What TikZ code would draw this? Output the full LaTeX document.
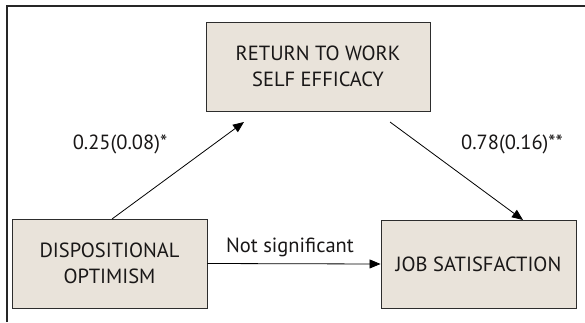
\documentclass[tikz,border=0pt]{standalone}
\usepackage{fontspec}
\setmainfont{PT Sans}
\usetikzlibrary{arrows.meta}
\definecolor{boxfill}{RGB}{233,227,218}
\definecolor{boxline}{RGB}{45,45,45}
\definecolor{txt}{RGB}{25,23,23}
\begin{document}
\begin{tikzpicture}[x=1pt,y=1pt,
  varbox/.style={draw=boxline,line width=0.9pt,fill=boxfill,align=center,
    text=txt,inner sep=0pt,font=\fontsize{20.5}{26}\selectfont},
  link/.style={draw=black,line width=0.8pt,-{Triangle[length=11pt,width=9pt]}},
  coef/.style={text=txt,font=\fontsize{20.5}{24}\selectfont,anchor=base,inner sep=0pt}]
\useasboundingbox (0,0) rectangle (585,322);
\draw[line width=1.6pt,draw=black!85] (7,0) -- (7,316) -- (585,316);
\node[varbox,minimum width=224pt,minimum height=89pt] (rtw) at (318,255.5) {RETURN TO WORK\\SELF EFFICACY};
\node[varbox,minimum width=195pt,minimum height=89pt] (do) at (109.5,58.5) {DISPOSITIONAL\\OPTIMISM};
\node[varbox,minimum width=195pt,minimum height=88pt] (js) at (478.5,58) {JOB SATISFACTION};
\coordinate (a1s) at (112,103);
\coordinate (a1e) at (244,200);
\coordinate (a2s) at (390,200);
\coordinate (a2e) at (523,102);
\draw[link] (a1s) -- (a1e);
\draw[link] (a2s) -- (a2e);
\draw[link] (do.east) -- (js.west);
\node[coef] (l1) at (120,173) {0.25(0.08)*};
\node[coef] (l2) at (512,173) {0.78(0.16)**};
\node[coef] (l3) at (290,70) {Not significant};
\end{tikzpicture}
\end{document}
